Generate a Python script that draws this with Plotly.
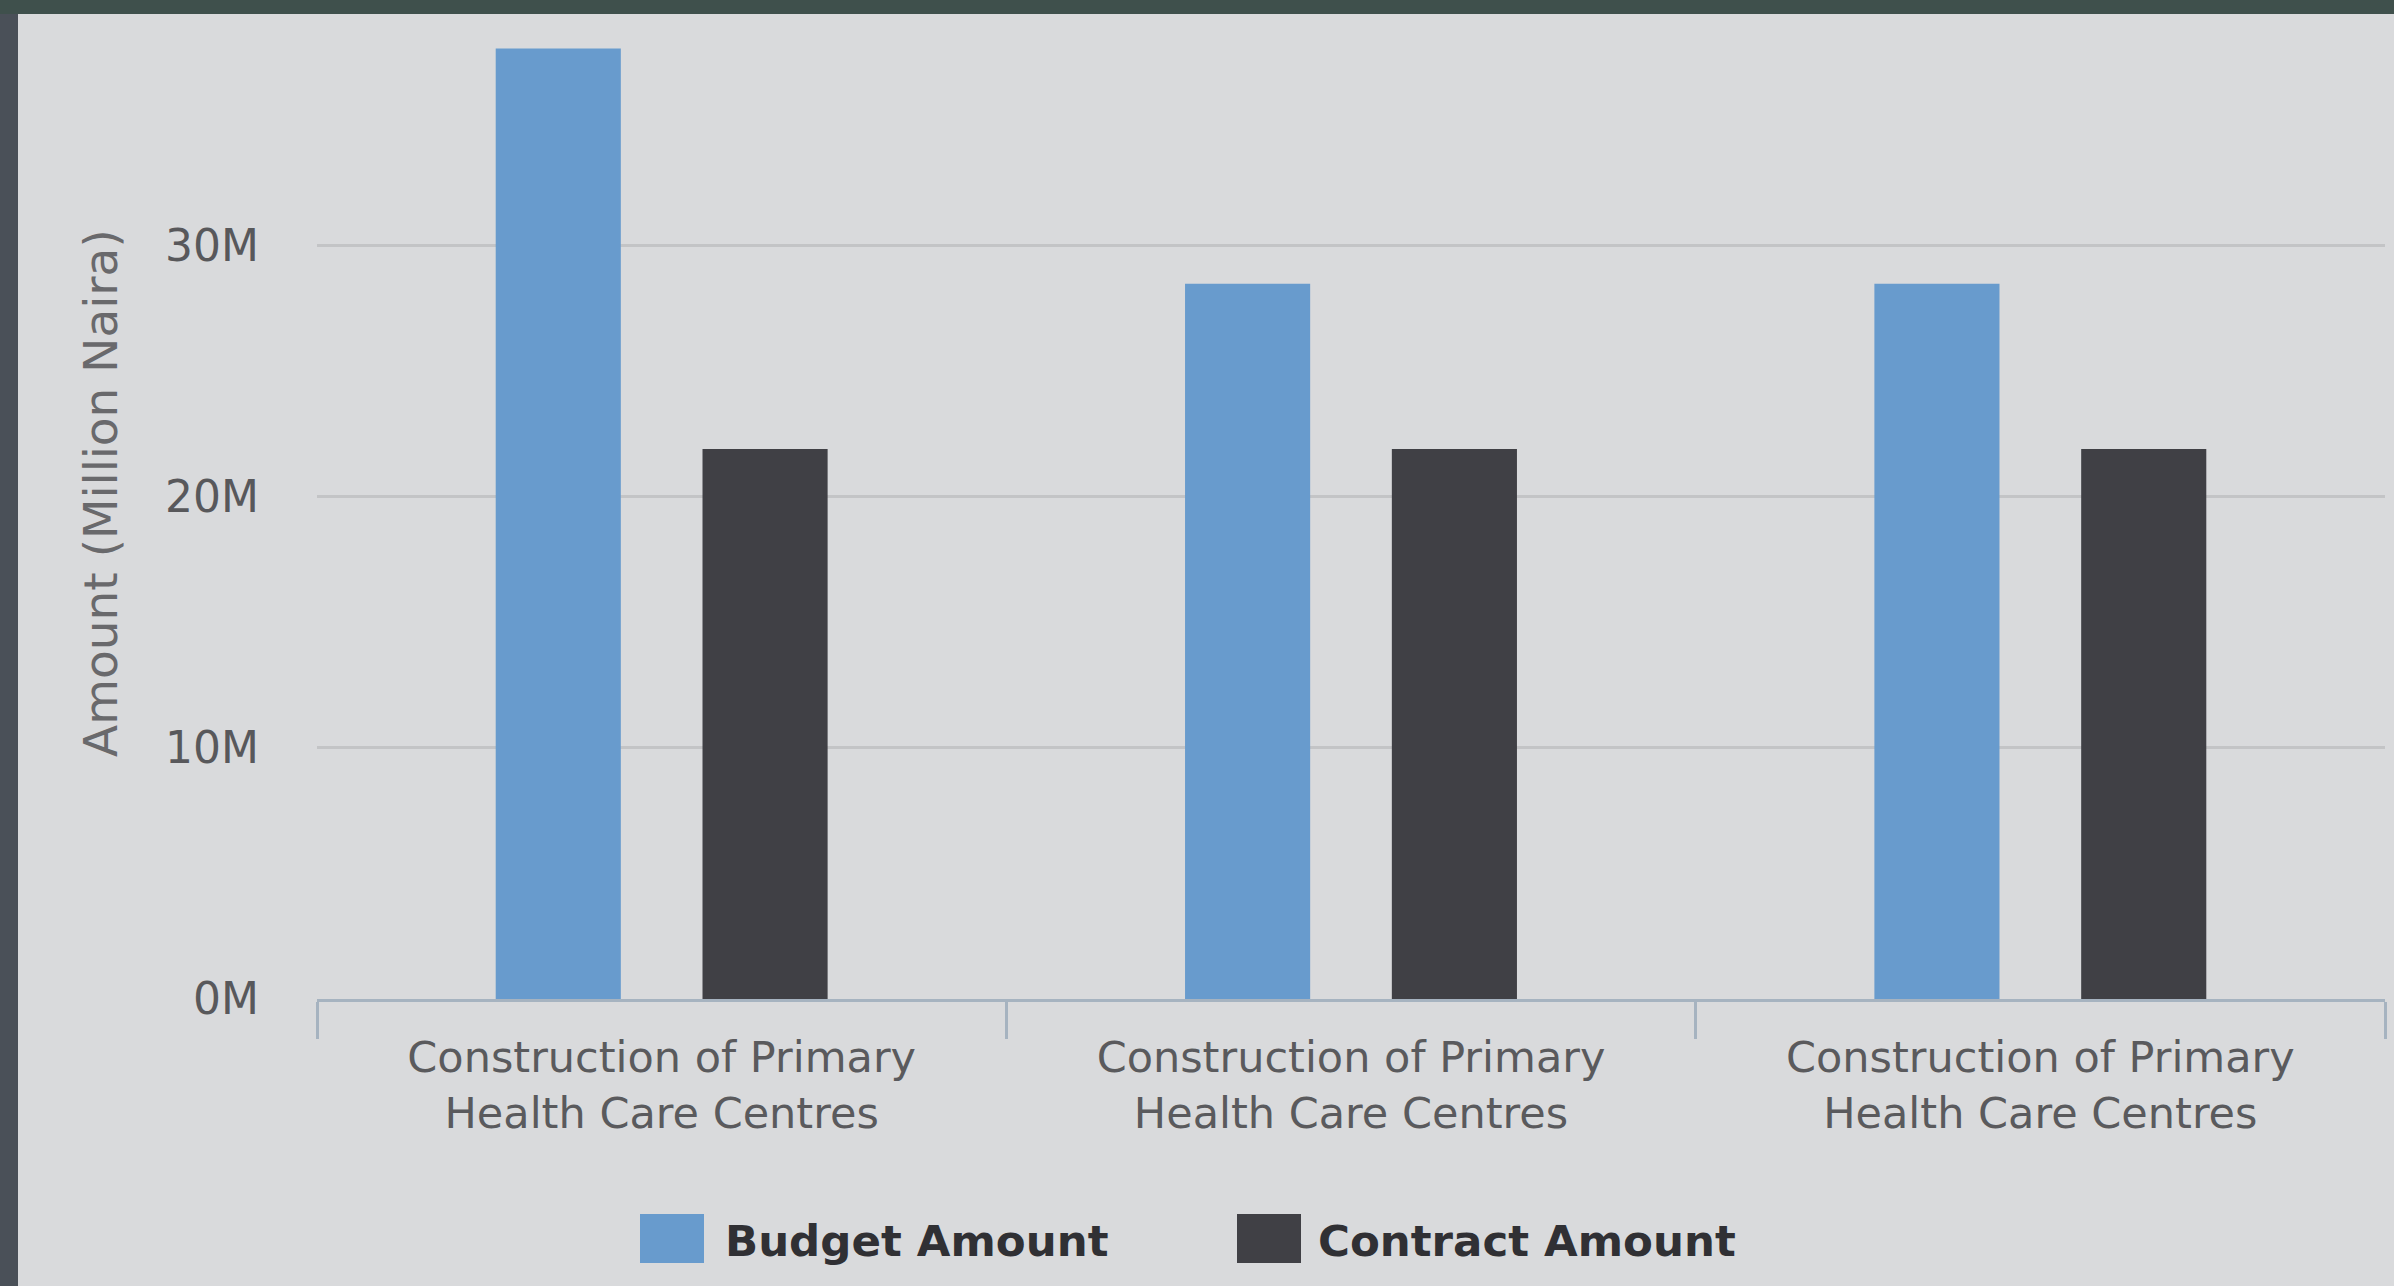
import plotly.graph_objects as go

# ---------------- data ----------------
categories = [
    "Construction of Primary<br>Health Care Centres",
    "Construction of Primary<br>Health Care Centres",
    "Construction of Primary<br>Health Care Centres",
]
budget_amount = [37.86e6, 28.49e6, 28.49e6]
contract_amount = [21.91e6, 21.91e6, 21.91e6]
series_names = ["Budget Amount", "Contract Amount"]
y_tick_values = [0, 10e6, 20e6, 30e6]
y_tick_labels = ["0M", "10M", "20M", "30M"]
y_title = "Amount (Million Naira)"

# ---------------- style ----------------
W, H = 2394, 1286
L, R, T, B = 317, 9, 14, 287
PW, PH = W - L - R, H - T - B
BG = "#d9dadc"
BLUE = "#689bcd"
DARK = "#404045"
FONT = "DejaVu Sans"

def px_x(p):
    return (p - L) / PW

def px_y(p):
    return (H - B - p) / PH

# unique category keys (identical visible labels)
cat_keys = [c + "\u200b" * i for i, c in enumerate(categories)]

fig = go.Figure()
fig.add_trace(go.Bar(x=cat_keys, y=budget_amount, name=series_names[0],
                     marker=dict(color=BLUE, line=dict(width=0)), showlegend=False))
fig.add_trace(go.Bar(x=cat_keys, y=contract_amount, name=series_names[1],
                     marker=dict(color=DARK, line=dict(width=0)), showlegend=False))

y_top = 39.23e6

fig.update_layout(
    width=W, height=H,
    margin=dict(l=L, r=R, t=T, b=B, pad=0),
    paper_bgcolor=BG, plot_bgcolor=BG,
    barmode="group", bargap=0.40, bargroupgap=0.395,
    font=dict(family=FONT, color="#5b5b5e"),
    xaxis=dict(
        type="category", tickson="boundaries",
        ticks="outside", ticklen=37, tickwidth=3, tickcolor="#a6b3c0",
        showline=True, linecolor="#a6b3c0", linewidth=3,
        showgrid=False, zeroline=False,
        ticklabelstandoff=18,
        tickfont=dict(family=FONT, size=43, color="#5a5a5d"),
        range=[-0.5, 2.5],
    ),
    yaxis=dict(
        range=[0, y_top], tickvals=y_tick_values, ticktext=y_tick_labels,
        showgrid=True, gridcolor="#c3c4c6", gridwidth=3,
        zeroline=False, showline=False, ticks="",
        ticklabelstandoff=57,
        tickfont=dict(family=FONT, size=44, color="#58585b"),
    ),
)

shapes = []
annotations = []
# window chrome bands
shapes.append(dict(type="rect", xref="paper", yref="paper", layer="above",
                   x0=px_x(0), x1=px_x(W), y0=px_y(14), y1=px_y(0),
                   fillcolor="#3f504c", line=dict(width=0)))
shapes.append(dict(type="rect", xref="paper", yref="paper", layer="above",
                   x0=px_x(0), x1=px_x(18), y0=px_y(H), y1=px_y(14),
                   fillcolor="#4a5058", line=dict(width=0)))

# custom legend
legend_items = [(series_names[0], BLUE, 640, 726), (series_names[1], DARK, 1237, 1319)]
for name, col, sx, tx in legend_items:
    shapes.append(dict(type="rect", xref="paper", yref="paper",
                       x0=px_x(sx), x1=px_x(sx + 64), y0=px_y(1263), y1=px_y(1214),
                       fillcolor=col, line=dict(width=0)))
    annotations.append(dict(text=name, xref="paper", yref="paper",
                            x=px_x(tx - 3), y=px_y(1241), xanchor="left", yanchor="middle",
                            showarrow=False,
                            font=dict(family=FONT, size=43.5, color="#303034", weight="bold")))

# y axis title
annotations.append(dict(text=y_title, xref="paper", yref="paper",
                        x=px_x(101), y=px_y(493), xanchor="center", yanchor="middle",
                        textangle=-90, showarrow=False,
                        font=dict(family=FONT, size=47, color="#69696c")))

fig.update_layout(shapes=shapes, annotations=annotations)
fig.write_html("out.html", config={"displayModeBar": False},
               post_script="document.body.style.margin='0';document.body.style.overflow='hidden';")
